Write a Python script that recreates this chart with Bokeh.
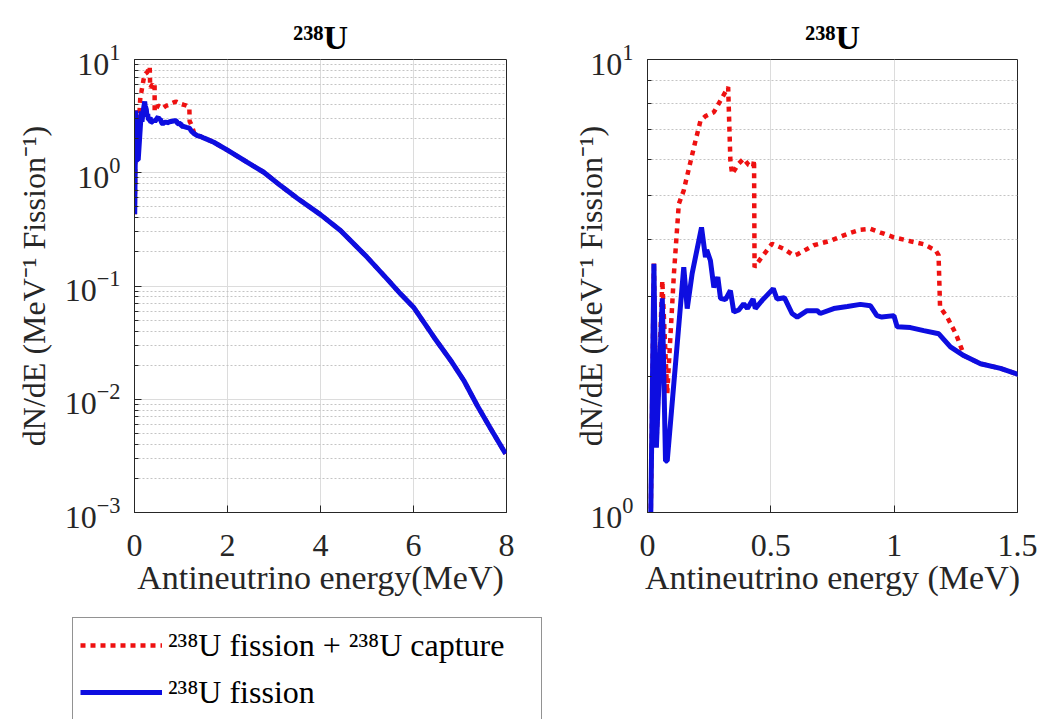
from bokeh.plotting import figure
from bokeh.layouts import row, column
from bokeh.models import FixedTicker, Legend, LegendItem, Range1d
from bokeh.embed import file_html
from bokeh.resources import INLINE

# ---------------- data ----------------
# 238U fission antineutrino spectrum (MeV, dN/dE)
fission_energy = [0.005, 0.026, 0.036, 0.060, 0.073, 0.080, 0.147, 0.161, 0.181, 0.219,
                  0.235, 0.240, 0.255, 0.269, 0.285, 0.296, 0.316, 0.336, 0.350, 0.370,
                  0.390, 0.405, 0.428, 0.437, 0.465, 0.510, 0.525, 0.555, 0.586, 0.607,
                  0.647, 0.688, 0.700, 0.755, 0.810, 0.863, 0.904, 0.930, 0.950, 0.999,
                  1.012, 1.066, 1.120, 1.181, 1.228, 1.282, 1.350, 1.431, 1.500, 1.706,
                  1.990, 2.420, 2.780, 3.140, 3.500, 4.000, 4.430, 5.000, 5.430, 5.720,
                  6.000, 6.440, 6.800, 7.080, 7.370, 7.660, 7.980]
fission_dnde = [0.43, 3.54, 1.39, 2.97, 1.30, 1.30, 3.48, 2.82, 3.37, 4.26,
                3.66, 3.80, 3.60, 3.14, 3.31, 2.97, 2.95, 3.09, 2.77, 2.80,
                2.89, 2.82, 2.96, 2.82, 2.94, 3.12, 2.96, 2.98, 2.75, 2.70,
                2.79, 2.79, 2.75, 2.82, 2.85, 2.88, 2.86, 2.72, 2.70, 2.72,
                2.57, 2.56, 2.52, 2.48, 2.32, 2.22, 2.13, 2.08, 2.02, 1.86,
                1.59, 1.24, 1.01, 0.77, 0.596, 0.427, 0.309, 0.180, 0.1157, 0.0853,
                0.065, 0.0353, 0.022, 0.0147, 0.0088, 0.0055, 0.0033]

# 238U fission + 238U capture, up to where it joins the fission curve
capture_energy = [0.005, 0.026, 0.036, 0.060, 0.080, 0.107, 0.127, 0.147, 0.156, 0.195,
                  0.215, 0.235, 0.269, 0.296, 0.327, 0.336, 0.343, 0.370, 0.390, 0.410,
                  0.428, 0.432, 0.434, 0.458, 0.505, 0.553, 0.593, 0.610, 0.674, 0.742,
                  0.810, 0.863, 0.904, 0.945, 0.999, 1.066, 1.120, 1.168, 1.180, 1.186,
                  1.215, 1.250, 1.276]
capture_dnde = [0.43, 3.57, 1.40, 3.25, 1.83, 3.36, 4.80, 5.14, 5.40, 6.63,
                7.33, 7.50, 7.65, 8.12, 8.69, 5.98, 5.59, 5.89, 6.04, 5.85,
                5.79, 6.00, 3.48, 3.63, 3.92, 3.82, 3.69, 3.72, 3.89, 3.98,
                4.12, 4.21, 4.23, 4.15, 4.05, 3.97, 3.91, 3.79, 3.70, 2.84,
                2.70, 2.48, 2.28]

left_xticks = [0, 2, 4, 6, 8]
right_xticks = [0, 0.5, 1, 1.5]
left_yticks = [1e-3, 1e-2, 1e-1, 1e0, 1e1]
right_yticks = [1, 10]

title_text = "²³⁸U"
ylabel = "dN/dE (MeV⁻¹ Fission⁻¹)"
xlabel_left = "Antineutrino energy(MeV)"
xlabel_right = "Antineutrino energy (MeV)"
legend_red = "²³⁸U fission + ²³⁸U capture"
legend_blue = "²³⁸U fission"

# combined curve = capture points, then the shared fission tail
red_energy = capture_energy + [e for e in fission_energy if e > capture_energy[-1]]
red_dnde = capture_dnde + [v for e, v in zip(fission_energy, fission_dnde) if e > capture_energy[-1]]

SERIF = "Liberation Serif"
AX = "#262626"
RED = "#ee1111"
BLUE = "#0d0de0"
RED_STYLE = dict(line_color=RED, line_width=4.5, line_dash="5 5")
BLUE_STYLE = dict(line_color=BLUE, line_width=5)


def minor_decades(lo_exp, hi_exp):
    return [m * 10.0 ** k for k in range(lo_exp, hi_exp) for m in range(2, 10)]


def make_panel(width, x_range, y_range, xticks, yticks, yminor, xlabel,
               left, right, ylabel_standoff):
    p = figure(width=width, height=612, x_range=x_range, y_range=y_range,
               y_axis_type="log", output_backend="svg", toolbar_location=None,
               min_border_top=59, min_border_bottom=100,
               min_border_left=left, min_border_right=right)
    p.background_fill_color = "white"
    p.border_fill_color = "white"
    p.outline_line_color = AX
    p.outline_line_width = 1

    xt = FixedTicker(ticks=xticks, minor_ticks=[])
    yt = FixedTicker(ticks=yticks, minor_ticks=yminor)
    p.xaxis.ticker = xt
    p.yaxis.ticker = yt
    p.xgrid.ticker = xt
    p.ygrid.ticker = yt

    for ax in (p.xaxis[0], p.yaxis[0]):
        ax.axis_line_color = AX
        ax.major_tick_line_color = AX
        ax.minor_tick_line_color = AX
        ax.major_tick_in = 7
        ax.major_tick_out = 0
        ax.minor_tick_in = 4
        ax.minor_tick_out = 0
        ax.major_label_text_font = SERIF
        ax.major_label_text_font_size = "32px"
        ax.major_label_text_color = AX
        ax.axis_label_text_font = SERIF
        ax.axis_label_text_font_style = "normal"
        ax.axis_label_text_color = AX

    p.xaxis.major_label_standoff = 22
    p.xaxis.axis_label = xlabel
    p.xaxis.axis_label_text_font_size = "34px"
    p.xaxis.axis_label_standoff = 0
    p.yaxis.major_label_standoff = 14
    p.yaxis.axis_label = ylabel
    p.yaxis.axis_label_text_font_size = "32px"
    p.yaxis.axis_label_standoff = ylabel_standoff

    p.xgrid.grid_line_color = "#dcdcdc"
    p.ygrid.grid_line_color = "#dcdcdc"
    p.ygrid.minor_grid_line_color = "#c4c4c4"
    p.ygrid.minor_grid_line_dash = "2 2"

    p.title.text = title_text
    p.title.text_font = SERIF
    p.title.text_font_size = "34px"
    p.title.text_font_style = "bold"
    p.title.text_color = "black"
    p.title.align = "center"
    p.title.standoff = 7

    p.line(red_energy, red_dnde, **RED_STYLE)
    p.line(fission_energy, fission_dnde, **BLUE_STYLE)
    return p


p1 = make_panel(541, (0, 8), (1e-3, 10), left_xticks, left_yticks,
                minor_decades(-3, 1), xlabel_left, 134, 35, 10)
p2 = make_panel(499, (0, 1.5), (1, 10), right_xticks, right_yticks,
                minor_decades(0, 1), xlabel_right, 106, 23, -22)

# legend panel below the left chart; its sample renderers carry the same data,
# outside the (empty) view of this panel, so only the legend is visible
p3 = figure(width=560, height=107, output_backend="svg", toolbar_location=None,
            x_range=Range1d(-2, -1), y_range=Range1d(-2, -1),
            x_axis_location=None, y_axis_location=None,
            min_border_left=72, min_border_top=5, min_border_bottom=0, min_border_right=0)
p3.outline_line_color = None
p3.grid.visible = False
p3.background_fill_color = "white"
p3.border_fill_color = "white"
lr = p3.line(red_energy, red_dnde, **RED_STYLE)
lb = p3.line(fission_energy, fission_dnde, **BLUE_STYLE)
legend = Legend(items=[LegendItem(label=legend_red, renderers=[lr]),
                       LegendItem(label=legend_blue, renderers=[lb])],
                location="top_left", orientation="vertical",
                label_text_font=SERIF, label_text_font_size="32px",
                label_text_color="black", label_standoff=6, label_width=366,
                glyph_width=82, glyph_height=40, label_height=40,
                spacing=7, padding=7, margin=0,
                border_line_color=AX, border_line_width=1,
                background_fill_color="white", background_fill_alpha=1.0)
p3.add_layout(legend)

layout = column(row(p1, p2), p3)
open("out.html", "w").write(file_html(layout, INLINE))
